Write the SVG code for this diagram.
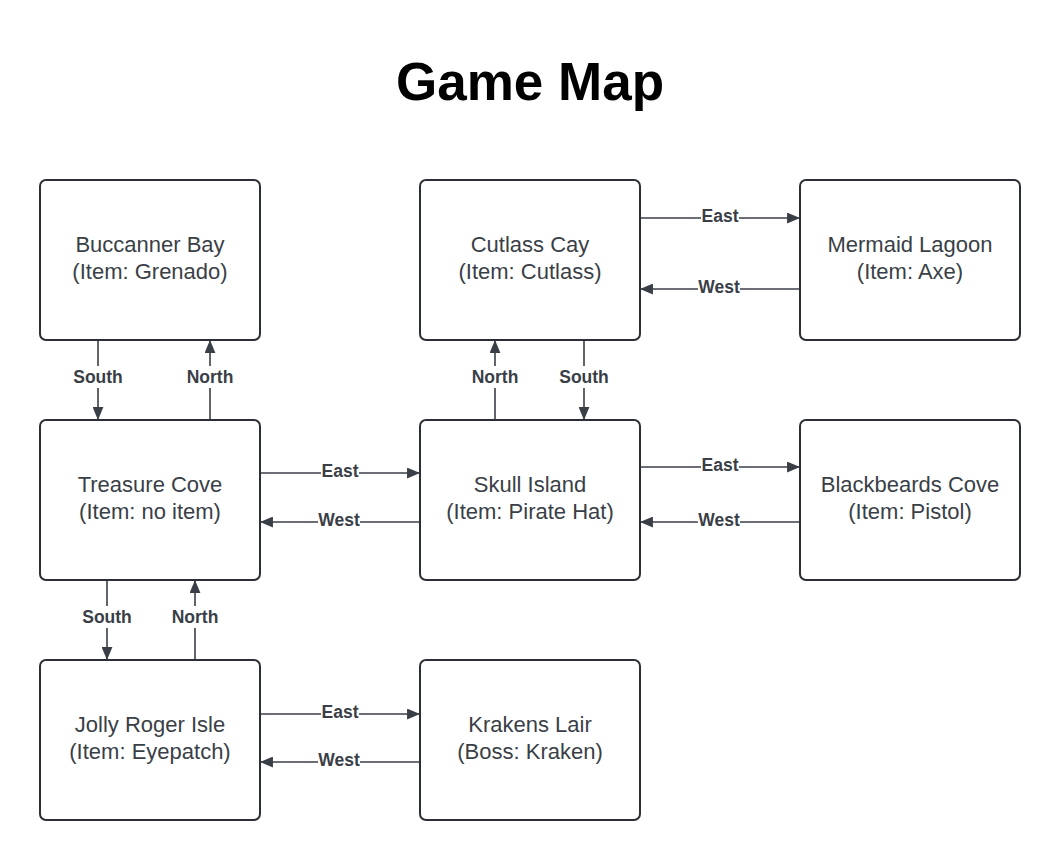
<svg xmlns="http://www.w3.org/2000/svg" width="1060" height="860" viewBox="0 0 1060 860">
  <style>
    .box { fill: #ffffff; stroke: #2b2f35; stroke-width: 2; }
    .name { font-family: "Liberation Sans", Arial, sans-serif; font-size: 22px; fill: #3a3f47; text-anchor: middle; }
    .link { stroke: #3a3f47; stroke-width: 1.6; fill: none; marker-end: url(#head); }
    .lbl { font-family: "Liberation Sans", Arial, sans-serif; font-size: 17.5px; font-weight: bold; fill: #3a3f47; text-anchor: middle; }
    .lblbg { fill: #ffffff; }
    .title { font-family: "Liberation Sans", Arial, sans-serif; font-size: 53px; font-weight: bold; fill: #000000; text-anchor: middle; }
  </style>
  <defs>
    <marker id="head" viewBox="0 0 12 10" refX="11" refY="5" markerWidth="13" markerHeight="11" markerUnits="userSpaceOnUse" orient="auto">
      <path d="M0,0 L12,5 L0,10 Z" fill="#3a3f47"/>
    </marker>
  </defs>
  <rect width="1060" height="860" fill="#ffffff"/>
  <text class="title" x="530" y="100">Game Map</text>

  <g id="buccaneer-bay">
    <rect class="box" x="40" y="180" width="220" height="160" rx="6"/>
    <text class="name" x="150" y="252">Buccanner Bay</text>
    <text class="name" x="150" y="279">(Item: Grenado)</text>
  </g>
  <g id="cutlass-cay">
    <rect class="box" x="420" y="180" width="220" height="160" rx="6"/>
    <text class="name" x="530" y="252">Cutlass Cay</text>
    <text class="name" x="530" y="279">(Item: Cutlass)</text>
  </g>
  <g id="mermaid-lagoon">
    <rect class="box" x="800" y="180" width="220" height="160" rx="6"/>
    <text class="name" x="910" y="252">Mermaid Lagoon</text>
    <text class="name" x="910" y="279">(Item: Axe)</text>
  </g>
  <g id="treasure-cove">
    <rect class="box" x="40" y="420" width="220" height="160" rx="6"/>
    <text class="name" x="150" y="492">Treasure Cove</text>
    <text class="name" x="150" y="519">(Item: no item)</text>
  </g>
  <g id="skull-island">
    <rect class="box" x="420" y="420" width="220" height="160" rx="6"/>
    <text class="name" x="530" y="492">Skull Island</text>
    <text class="name" x="530" y="519">(Item: Pirate Hat)</text>
  </g>
  <g id="blackbeards-cove">
    <rect class="box" x="800" y="420" width="220" height="160" rx="6"/>
    <text class="name" x="910" y="492">Blackbeards Cove</text>
    <text class="name" x="910" y="519">(Item: Pistol)</text>
  </g>
  <g id="jolly-roger-isle">
    <rect class="box" x="40" y="660" width="220" height="160" rx="6"/>
    <text class="name" x="150" y="732">Jolly Roger Isle</text>
    <text class="name" x="150" y="759">(Item: Eyepatch)</text>
  </g>
  <g id="krakens-lair">
    <rect class="box" x="420" y="660" width="220" height="160" rx="6"/>
    <text class="name" x="530" y="732">Krakens Lair</text>
    <text class="name" x="530" y="759">(Boss: Kraken)</text>
  </g>

  <g id="connectors">
    <!-- Buccaneer Bay <-> Treasure Cove -->
    <line class="link" x1="98" y1="341" x2="98" y2="419"/>
    <rect class="lblbg" x="70" y="366" width="56" height="22"/>
    <text class="lbl" x="98" y="383">South</text>
    <line class="link" x1="210" y1="419" x2="210" y2="341"/>
    <rect class="lblbg" x="184" y="366" width="52" height="22"/>
    <text class="lbl" x="210" y="383">North</text>

    <!-- Cutlass Cay <-> Skull Island -->
    <line class="link" x1="495" y1="419" x2="495" y2="341"/>
    <rect class="lblbg" x="469" y="366" width="52" height="22"/>
    <text class="lbl" x="495" y="383">North</text>
    <line class="link" x1="584" y1="341" x2="584" y2="419"/>
    <rect class="lblbg" x="556" y="366" width="56" height="22"/>
    <text class="lbl" x="584" y="383">South</text>

    <!-- Cutlass Cay <-> Mermaid Lagoon -->
    <line class="link" x1="641" y1="218" x2="799" y2="218"/>
    <rect class="lblbg" x="701" y="208" width="38" height="18"/>
    <text class="lbl" x="720" y="222">East</text>
    <line class="link" x1="799" y1="289" x2="641" y2="289"/>
    <rect class="lblbg" x="698" y="279" width="42" height="18"/>
    <text class="lbl" x="719" y="293">West</text>

    <!-- Treasure Cove <-> Skull Island -->
    <line class="link" x1="261" y1="473" x2="419" y2="473"/>
    <rect class="lblbg" x="321" y="463" width="38" height="18"/>
    <text class="lbl" x="340" y="477">East</text>
    <line class="link" x1="419" y1="522" x2="261" y2="522"/>
    <rect class="lblbg" x="318" y="512" width="42" height="18"/>
    <text class="lbl" x="339" y="526">West</text>

    <!-- Skull Island <-> Blackbeards Cove -->
    <line class="link" x1="641" y1="467" x2="799" y2="467"/>
    <rect class="lblbg" x="701" y="457" width="38" height="18"/>
    <text class="lbl" x="720" y="471">East</text>
    <line class="link" x1="799" y1="522" x2="641" y2="522"/>
    <rect class="lblbg" x="698" y="512" width="42" height="18"/>
    <text class="lbl" x="719" y="526">West</text>

    <!-- Treasure Cove <-> Jolly Roger Isle -->
    <line class="link" x1="107" y1="581" x2="107" y2="659"/>
    <rect class="lblbg" x="79" y="606" width="56" height="22"/>
    <text class="lbl" x="107" y="623">South</text>
    <line class="link" x1="195" y1="659" x2="195" y2="581"/>
    <rect class="lblbg" x="169" y="606" width="52" height="22"/>
    <text class="lbl" x="195" y="623">North</text>

    <!-- Jolly Roger Isle <-> Krakens Lair -->
    <line class="link" x1="261" y1="714" x2="419" y2="714"/>
    <rect class="lblbg" x="321" y="704" width="38" height="18"/>
    <text class="lbl" x="340" y="718">East</text>
    <line class="link" x1="419" y1="762" x2="261" y2="762"/>
    <rect class="lblbg" x="318" y="752" width="42" height="18"/>
    <text class="lbl" x="339" y="766">West</text>
  </g>
</svg>
